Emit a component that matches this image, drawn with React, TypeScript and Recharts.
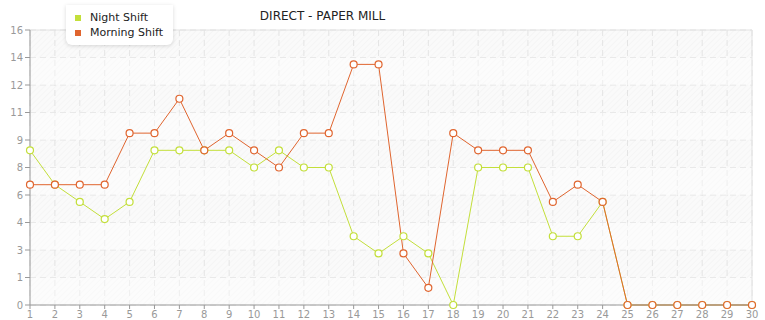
import {
  LineChart,
  Line,
  XAxis,
  YAxis,
  CartesianGrid,
  ReferenceArea,
  ReferenceLine,
} from "recharts";

const days = Array.from({ length: 30 }, (_, i) => i + 1);
const nightShift = [9, 7, 6, 5, 6, 9, 9, 9, 9, 8, 9, 8, 8, 4, 3, 4, 3, 0, 8, 8, 8, 4, 4, 6, 0, 0, 0, 0, 0, 0];
const morningShift = [7, 7, 7, 7, 10, 10, 12, 9, 10, 9, 8, 10, 10, 14, 14, 3, 1, 10, 9, 9, 9, 6, 7, 6, 0, 0, 0, 0, 0, 0];
const yTicks = [0, 1.6, 3.2, 4.8, 6.4, 8, 9.6, 11.2, 12.8, 14.4, 16];

const NIGHT = "#c3df3a";
const MORNING = "#e0652f";
const FONT = "'DejaVu Sans', Verdana, sans-serif";

const data = days.map((d, i) => ({ day: d, night: nightShift[i], morning: morningShift[i] }));

// lighter every other band between the horizontal grid lines
const bands = yTicks.slice(0, -1).filter((_, i) => i % 2 === 0).map((v, i) => [v, yTicks[i * 2 + 1]]);

const LegendBox = () => (
  <div style={{
    position: "absolute",
    left: 66,
    top: 5,
    zIndex: 2,
    background: "#fff",
    borderRadius: "0 0 6px 6px",
    boxShadow: "0 1px 4px rgba(0,0,0,0.15)",
    padding: "5px 10px 5px 9px",
    fontFamily: FONT,
    fontSize: 11,
    color: "#222",
    lineHeight: "15px",
  }}>
    {[["Night Shift", NIGHT], ["Morning Shift", MORNING]].map(([name, c]) => (
      <div key={name} style={{ display: "flex", alignItems: "center" }}>
        <span style={{ width: 6, height: 6, background: c, marginRight: 9, display: "inline-block" }} />
        {name}
      </div>
    ))}
  </div>
);

export default function App() {
  return (
    <div style={{ position: "absolute", left: 0, top: 0, width: 765, height: 320, background: "#fff", overflow: "hidden" }}>
      <div style={{
        position: "absolute", left: 0, width: 645, top: 9, textAlign: "center",
        fontFamily: FONT, fontSize: 12, color: "#222",
      }}>
        DIRECT - PAPER MILL
      </div>
      <LineChart width={765} height={320} data={data} margin={{ top: 30, right: 13, left: 0, bottom: 0 }}>
        <defs>
          <pattern id="hatch" width="4" height="4" patternUnits="userSpaceOnUse" patternTransform="rotate(45)">
            <rect width="4" height="4" fill="#fafafa" />
            <line x1="0" y1="0" x2="0" y2="4" stroke="#f0f0f0" strokeWidth="1" />
          </pattern>
        </defs>
        <CartesianGrid stroke="#e4e4e4" strokeDasharray="6 4" fill="url(#hatch)" fillOpacity={1} />
        {bands.map(([a, b]) => (
          <ReferenceArea key={a} y1={a} y2={b} fill="#ffffff" fillOpacity={0.4} stroke="none" ifOverflow="visible" />
        ))}
        <ReferenceLine y={16} stroke="#e2e2e2" />
        <ReferenceLine x={30} stroke="#e2e2e2" />
        <XAxis
          dataKey="day"
          type="number"
          domain={[1, 30]}
          ticks={days}
          interval={0}
          height={15}
          stroke="#999"
          tickSize={4}
          tick={{ fontSize: 10, fill: "#999", fontFamily: FONT }}
        />
        <YAxis
          domain={[0, 16]}
          ticks={yTicks}
          width={30}
          stroke="#999"
          tickSize={5}
          tickFormatter={(v: number) => String(Math.floor(v + 1e-9))}
          tick={{ fontSize: 10, fill: "#999", fontFamily: FONT }}
        />
        <Line
          dataKey="night"
          name="Night Shift"
          stroke={NIGHT}
          strokeWidth={1}
          dot={{ r: 3.5, fill: "#fff", stroke: NIGHT, strokeWidth: 1.2 }}
          isAnimationActive={false}
        />
        <Line
          dataKey="morning"
          name="Morning Shift"
          stroke={MORNING}
          strokeWidth={1}
          dot={{ r: 3.5, fill: "#fff", stroke: MORNING, strokeWidth: 1.2 }}
          isAnimationActive={false}
        />
      </LineChart>
      <LegendBox />
    </div>
  );
}
